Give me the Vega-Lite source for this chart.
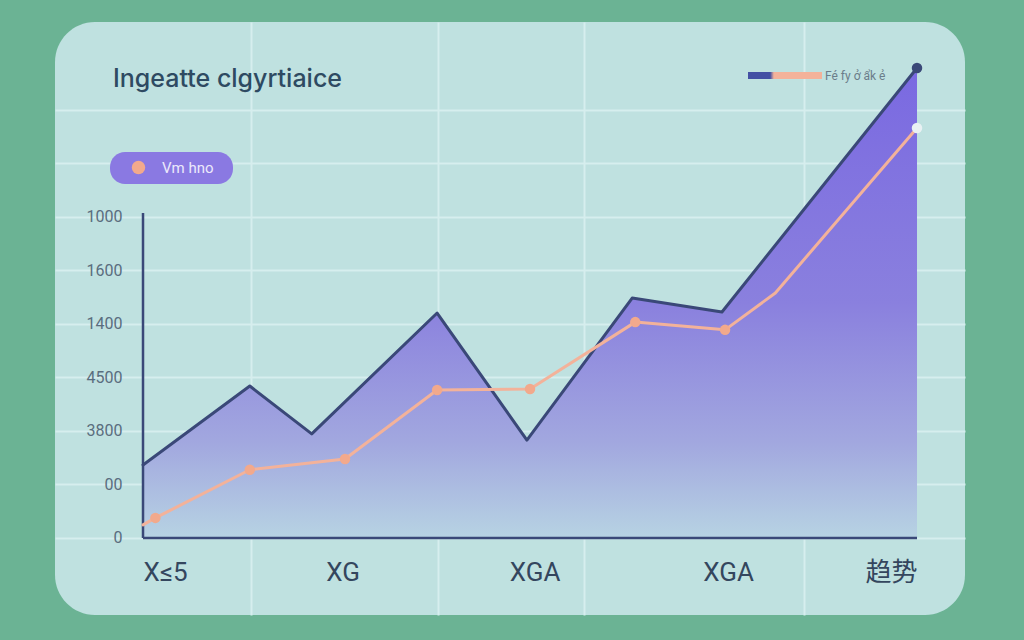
{
  "$schema": "https://vega.github.io/schema/vega-lite/v6.json",
  "width": 910,
  "height": 593,
  "autosize": "none",
  "padding": {"left": 55, "top": 22, "right": 59, "bottom": 25},
  "background": "#6bb394",
  "config": {
    "view": {"fill": "#bfe1e0", "stroke": null, "cornerRadius": 40},
    "font": "Roboto"
  },
  "title": {
    "text": "Ingeatte clgyrtiaice",
    "anchor": "start",
    "frame": "group",
    "font": "Inter",
    "fontSize": 25,
    "fontWeight": 500,
    "color": "#2e4a62",
    "dx": 58,
    "dy": 86,
    "baseline": "middle"
  },
  "data": {
    "values": [
      {"series": "A", "x": 0, "y": 273, "dot": null},
      {"series": "A", "x": 13.8, "y": 568, "dot": null},
      {"series": "A", "x": 21.8, "y": 389, "dot": null},
      {"series": "A", "x": 38.0, "y": 841, "dot": null},
      {"series": "A", "x": 49.6, "y": 366, "dot": null},
      {"series": "A", "x": 63.2, "y": 897, "dot": null},
      {"series": "A", "x": 74.8, "y": 845, "dot": null},
      {"series": "A", "x": 100, "y": 1757, "dot": "endA"},
      {"series": "B", "x": 0, "y": 49, "dot": null},
      {"series": "B", "x": 1.6, "y": 75, "dot": "Vm hno"},
      {"series": "B", "x": 13.8, "y": 255, "dot": "Vm hno"},
      {"series": "B", "x": 26.1, "y": 295, "dot": "Vm hno"},
      {"series": "B", "x": 38.0, "y": 553, "dot": "Vm hno"},
      {"series": "B", "x": 50.0, "y": 557, "dot": "Vm hno"},
      {"series": "B", "x": 63.6, "y": 807, "dot": "Vm hno"},
      {"series": "B", "x": 75.2, "y": 778, "dot": "Vm hno"},
      {"series": "B", "x": 81.7, "y": 916, "dot": null},
      {"series": "B", "x": 100, "y": 1533, "dot": "end"}
    ]
  },
  "resolve": {"axis": {"x": "independent"}},
  "layer": [
    {
      "transform": [{"filter": "datum.series == 'A'"}],
      "mark": {
        "type": "area",
        "line": false,
        "color": {
          "gradient": "linear",
          "x1": 0, "y1": 0, "x2": 0, "y2": 1,
          "stops": [
            {"offset": 0, "color": "#7a69e1"},
            {"offset": 0.5, "color": "#8a80de"},
            {"offset": 0.8, "color": "#a2a8df"},
            {"offset": 1, "color": "#b7d3e3"}
          ]
        }
      },
      "encoding": {
        "x": {
          "field": "x",
          "type": "quantitative",
          "scale": {"domain": [-11.37, 106.2], "nice": false, "zero": false},
          "axis": {
            "orient": "bottom",
            "values": [14, 38.1, 57, 85.4],
            "grid": true,
            "gridColor": "#d6eeee",
            "gridWidth": 2,
            "labels": false,
            "domain": false,
            "ticks": false,
            "title": null
          }
        },
        "y": {
          "field": "y",
          "type": "quantitative",
          "scale": {"domain": [-288, 1929], "nice": false, "zero": false},
          "axis": {
            "values": [0, 200, 400, 600, 800, 1000, 1200, 1400, 1600],
            "labelExpr": "['0','00','3800','4500','1400','1600','1000','',''][datum.value / 200]",
            "grid": true,
            "gridColor": "#d6eeee",
            "gridWidth": 2,
            "domain": false,
            "ticks": false,
            "tickSize": 0,
            "offset": -88,
            "labelPadding": 21,
            "labelFont": "Roboto",
            "labelFontSize": 16,
            "labelColor": "#5a6d7e",
            "title": null
          }
        }
      }
    },
    {
      "data": {"values": [{}]},
      "mark": {"type": "rule", "color": "#3a4878", "strokeWidth": 2.5},
      "encoding": {
        "x": {"datum": 0, "type": "quantitative", "axis": null},
        "x2": {"datum": 100},
        "y": {"datum": 0, "type": "quantitative"}
      }
    },
    {
      "data": {"values": [{}]},
      "mark": {"type": "rule", "color": "#3a4878", "strokeWidth": 2.5},
      "encoding": {
        "x": {"datum": 0, "type": "quantitative", "axis": null},
        "y": {"datum": 0, "type": "quantitative"},
        "y2": {"datum": 1215}
      }
    },
    {
      "data": {"values": [{"k": 0.5}]},
      "mark": {"type": "rule", "opacity": 0},
      "encoding": {
        "x": {"datum": 0, "type": "quantitative", "axis": null},
        "y": {"datum": 0, "type": "quantitative"},
        "color": {
          "field": "k",
          "type": "quantitative",
          "scale": {
            "domain": [0, 0.3, 0.31, 1],
            "range": ["#4350a4", "#4350a4", "#f3b29a", "#f3b29a"],
            "zero": false,
            "nice": false
          },
          "legend": {
            "orient": "none",
            "legendX": 693,
            "legendY": 50,
            "direction": "horizontal",
            "gradientLength": 74,
            "gradientThickness": 7,
            "gradientStrokeWidth": 0,
            "labelExpr": "''",
            "labelOpacity": 0,
            "title": "Fé fy ở ẩk ẻ",
            "titleOrient": "right",
            "titlePadding": 3,
            "titleFont": "Roboto",
            "titleFontSize": 12,
            "titleFontWeight": "normal",
            "titleColor": "#6b7d8a"
          }
        }
      }
    },
    {
      "mark": {"type": "line", "strokeWidth": 3, "strokeJoin": "round", "strokeCap": "round"},
      "encoding": {
        "x": {
          "field": "x",
          "type": "quantitative",
          "axis": {
            "orient": "bottom",
            "values": [0, 25.8, 50.6, 75.6, 100],
            "labelExpr": "datum.value < 10 ? 'X≤5' : datum.value < 40 ? 'XG' : datum.value < 60 ? 'XGA' : datum.value < 90 ? 'XGA' : '趋势'",
            "labelAlign": {"expr": "datum.value == 0 ? 'left' : datum.value == 100 ? 'right' : 'center'"},
            "grid": false,
            "domain": false,
            "ticks": false,
            "tickSize": 0,
            "offset": -77,
            "labelPadding": 21,
            "labelFont": "Roboto, Noto Sans CJK SC",
            "labelFontSize": 26,
            "labelColor": "#34465e",
            "title": null
          }
        },
        "y": {"field": "y", "type": "quantitative"},
        "stroke": {
          "field": "series",
          "type": "nominal",
          "scale": {"domain": ["A", "B"], "range": ["#3a4878", "#f3b29a"]},
          "legend": null
        }
      }
    },
    {
      "transform": [{"filter": "datum.dot != null"}],
      "mark": {"type": "point", "filled": true, "opacity": 1, "size": 110},
      "encoding": {
        "x": {"field": "x", "type": "quantitative", "axis": null},
        "y": {"field": "y", "type": "quantitative"},
        "fill": {
          "field": "dot",
          "type": "nominal",
          "scale": {"domain": ["Vm hno", "end", "endA"], "range": ["#f2a98c", "#e9f1f3", "#3a4878"]},
          "legend": {
            "orient": "none",
            "legendX": 55,
            "legendY": 130,
            "values": ["Vm hno"],
            "title": null,
            "fillColor": "#8a79e2",
            "cornerRadius": 15,
            "padding": 8,
            "symbolType": "circle",
            "symbolSize": 180,
            "symbolOffset": 13,
            "labelOffset": 16,
            "labelColor": "#ece9fb",
            "labelFontSize": 15,
            "labelExpr": "datum.label + '\u2800'"
          }
        }
      }
    }
  ]
}
